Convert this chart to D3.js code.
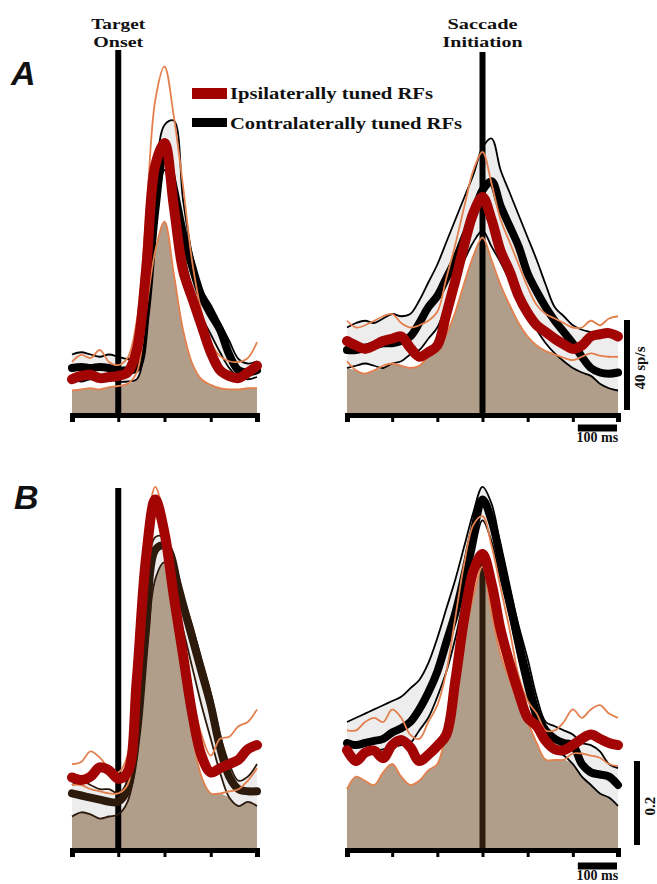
<!DOCTYPE html>
<html>
<head>
<meta charset="utf-8">
<script src="https://cdn.jsdelivr.net/npm/d3@7"></script>
<style>
    body { margin: 0; background: #ffffff; }
    .serif-label { font-family: "Liberation Serif", "DejaVu Serif", serif; font-weight: bold; fill: #111111; }
    .panel-letter { font-family: "Liberation Sans", Arial, sans-serif; font-weight: bold; font-style: italic; fill: #111111; }
</style>
</head>
<body>
<svg id="fig" width="657" height="884"></svg>
<script>
// time bins (ms) relative to the event
const timesOnset = [-100, -80, -60, -40, -20, 0, 20, 40, 60, 80, 100, 120, 140, 160, 180, 200, 220, 240, 260, 280, 300];
const timesSacc = [-300, -280, -260, -240, -220, -200, -180, -160, -140, -120, -100, -80, -60, -40, -20, 0,
                   20, 40, 60, 80, 100, 120, 140, 160, 180, 200, 220, 240, 260, 280, 300];
const ticksOnset = [-100, 0, 100, 200, 300];
const ticksSacc = [-300, -200, -100, 0, 100, 200, 300];

// A - firing rate (sp/s), aligned on target onset
const aOnsetIpsiMean = [15, 16.5, 17, 15.5, 16, 16.5, 18, 28, 63, 110, 120, 92, 63.5, 51, 39, 27, 19, 16.4, 15.5, 18, 21];
const aOnsetIpsiHi = [22.7, 25.8, 24.4, 28, 22.7, 21.3, 24.4, 41, 86, 139, 154, 132, 101, 67, 45, 31.5, 25.3, 23, 22.7, 24.4, 31.5];
const aOnsetIpsiLo = [10, 10.5, 11, 10.5, 11.5, 12, 13, 18, 45, 72, 85, 62, 37, 22, 15, 12.5, 11, 10.5, 10.5, 11, 11];
const aOnsetContraMean = [20, 20.5, 20, 20.5, 20, 19, 19, 20, 45, 90, 117, 100, 80, 65, 52, 44, 37, 26, 19, 18, 19];
const aOnsetContraHi = [26, 27, 26, 25, 26, 25, 24, 25, 52, 100, 128, 130, 95, 70, 55, 48, 40, 32, 24, 22, 23];
const aOnsetContraLo = [15, 14, 15, 14.5, 15, 14, 14, 15, 35, 80, 108, 92, 72, 55, 43, 35, 27, 20, 16, 15, 16];

// A - firing rate (sp/s), aligned on saccade initiation
const aSaccIpsiMean = [32, 30, 28.5, 30, 32, 33, 34, 29, 25, 27, 30, 44, 59, 75, 89, 96, 86, 72, 63, 52, 44.5, 39, 36, 33, 30.5, 28.5, 30, 34, 35, 35.5, 34];
const aSaccIpsiHi = [41, 38, 39, 41, 43, 44, 40, 38, 39, 41, 45, 60, 75, 92, 108, 116, 102, 86, 76, 66, 56, 48, 44, 42, 40, 38, 38, 41, 39, 42, 43];
const aSaccIpsiLo = [23, 19, 17.5, 19, 21, 22, 21, 20, 21, 25, 28, 35, 45, 58, 70, 78, 68, 57, 48, 40, 34, 30, 27.5, 26, 24.5, 23.5, 25, 26.5, 25.5, 25, 25];
const aSaccContraMean = [28, 28, 29, 30, 31, 31, 32, 34, 40, 47, 52, 60, 68, 78, 88, 99, 103, 92, 83, 74, 62, 54, 47, 41, 36, 31, 25, 20, 18, 17.5, 18];
const aSaccContraHi = [38, 40, 41, 40, 42, 44, 43, 44, 50, 58, 66, 76, 86, 96, 106, 118, 122, 108, 98, 88, 78, 68, 57, 47, 43, 39, 37, 36, 35, 35, 35];
const aSaccContraLo = [20, 21, 22, 21, 20, 22, 23, 26, 28, 33, 38, 48, 58, 68, 76, 81, 74, 67, 59, 52, 44, 37, 31, 26.5, 23, 20, 18, 16.5, 13, 11, 10];

// B - normalized activity, aligned on target onset
const bOnsetIpsiMean = [0.168, 0.162, 0.17, 0.192, 0.185, 0.165, 0.18, 0.40, 0.69, 0.83, 0.75, 0.6, 0.46, 0.32, 0.22, 0.18, 0.19, 0.2, 0.21, 0.235, 0.245];
const bOnsetIpsiHi = [0.2, 0.205, 0.23, 0.215, 0.19, 0.18, 0.22, 0.45, 0.73, 0.86, 0.78, 0.63, 0.49, 0.36, 0.27, 0.22, 0.26, 0.265, 0.29, 0.3, 0.33];
const bOnsetIpsiLo = [0.15, 0.15, 0.14, 0.135, 0.13, 0.13, 0.15, 0.35, 0.64, 0.79, 0.71, 0.56, 0.41, 0.27, 0.17, 0.13, 0.13, 0.135, 0.14, 0.16, 0.19];
const bOnsetContraMean = [0.13, 0.125, 0.12, 0.115, 0.11, 0.11, 0.14, 0.27, 0.52, 0.71, 0.72, 0.66, 0.58, 0.5, 0.42, 0.34, 0.24, 0.17, 0.14, 0.135, 0.135];
const bOnsetContraHi = [0.15, 0.16, 0.15, 0.14, 0.14, 0.13, 0.16, 0.3, 0.55, 0.74, 0.74, 0.7, 0.6, 0.53, 0.45, 0.37, 0.27, 0.2, 0.16, 0.17, 0.2];
const bOnsetContraLo = [0.075, 0.085, 0.08, 0.07, 0.075, 0.08, 0.11, 0.22, 0.45, 0.64, 0.68, 0.6, 0.52, 0.43, 0.34, 0.26, 0.18, 0.12, 0.1, 0.11, 0.1];

// B - normalized activity, aligned on saccade initiation
const bSaccIpsiMean = [0.233, 0.207, 0.227, 0.232, 0.214, 0.245, 0.257, 0.24, 0.207, 0.222, 0.243, 0.27, 0.4, 0.55, 0.66, 0.70, 0.63, 0.52, 0.44, 0.37, 0.31, 0.29, 0.255, 0.235, 0.233, 0.245, 0.26, 0.27, 0.26, 0.25, 0.245];
const bSaccIpsiHi = [0.28, 0.28, 0.3, 0.31, 0.3, 0.33, 0.31, 0.27, 0.26, 0.3, 0.34, 0.42, 0.55, 0.68, 0.77, 0.79, 0.72, 0.62, 0.52, 0.41, 0.35, 0.32, 0.28, 0.28, 0.30, 0.33, 0.31, 0.33, 0.34, 0.32, 0.31];
const bSaccIpsiLo = [0.14, 0.17, 0.16, 0.15, 0.18, 0.2, 0.17, 0.15, 0.16, 0.185, 0.2, 0.28, 0.39, 0.5, 0.6, 0.67, 0.56, 0.46, 0.4, 0.34, 0.3, 0.25, 0.21, 0.21, 0.21, 0.225, 0.225, 0.22, 0.215, 0.2, 0.195];
const bSaccContraMean = [0.25, 0.245, 0.25, 0.255, 0.26, 0.275, 0.285, 0.3, 0.33, 0.37, 0.42, 0.49, 0.56, 0.65, 0.75, 0.83, 0.78, 0.69, 0.59, 0.49, 0.4, 0.32, 0.28, 0.26, 0.25, 0.245, 0.2, 0.18, 0.175, 0.17, 0.15];
const bSaccContraHi = [0.3, 0.31, 0.32, 0.33, 0.34, 0.35, 0.36, 0.38, 0.4, 0.44, 0.5, 0.57, 0.64, 0.72, 0.8, 0.86, 0.82, 0.72, 0.62, 0.53, 0.45, 0.36, 0.3, 0.29, 0.28, 0.27, 0.25, 0.245, 0.23, 0.2, 0.19];
const bSaccContraLo = [0.22, 0.21, 0.22, 0.23, 0.235, 0.24, 0.245, 0.25, 0.28, 0.31, 0.36, 0.42, 0.5, 0.6, 0.7, 0.78, 0.73, 0.64, 0.55, 0.45, 0.36, 0.29, 0.25, 0.23, 0.22, 0.2, 0.17, 0.15, 0.13, 0.12, 0.1];

// colours
const tanFill = "#b19e8a";
const bandFill = "#ededed";
const ipsiThick = "#a30505";
const ipsiThin = "#e3804e";

const svg = d3.select("#fig");

const panels = [
    {times: timesOnset, ticks: ticksOnset, xRange: [72, 257], yDomain: [0, 40], yRange: [413, 323],
     ipsi: [aOnsetIpsiMean, aOnsetIpsiHi, aOnsetIpsiLo], contra: [aOnsetContraMean, aOnsetContraHi, aOnsetContraLo],
     lineTop: 50, lineColor: "#000000", contraColor: "#000000"},
    {times: timesSacc, ticks: ticksSacc, xRange: [347, 618], yDomain: [0, 40], yRange: [413, 323],
     ipsi: [aSaccIpsiMean, aSaccIpsiHi, aSaccIpsiLo], contra: [aSaccContraMean, aSaccContraHi, aSaccContraLo],
     lineTop: 52, lineColor: "#000000", contraColor: "#000000"},
    {times: timesOnset, ticks: ticksOnset, xRange: [72, 257], yDomain: [0, 0.2], yRange: [848, 764],
     ipsi: [bOnsetIpsiMean, bOnsetIpsiHi, bOnsetIpsiLo], contra: [bOnsetContraMean, bOnsetContraHi, bOnsetContraLo],
     lineTop: 488, lineColor: "#000000", contraColor: "#2c1a0c"},
    {times: timesSacc, ticks: ticksSacc, xRange: [347, 618], yDomain: [0, 0.2], yRange: [848, 764],
     ipsi: [bSaccIpsiMean, bSaccIpsiHi, bSaccIpsiLo], contra: [bSaccContraMean, bSaccContraHi, bSaccContraLo],
     lineTop: null, lineColor: "#2e1d0e", contraColor: "#000000"}
];

const curve = d3.curveCatmullRom.alpha(0.5);

panels.forEach(p => {
    const x = d3.scaleLinear()
                .domain(d3.extent(p.times))
                .range(p.xRange);
    const y = d3.scaleLinear()
                .domain(p.yDomain)
                .range(p.yRange);

    const rows = p.times.map((t, i) => {
        const vals = [p.ipsi[0][i], p.ipsi[1][i], p.ipsi[2][i], p.contra[0][i], p.contra[1][i], p.contra[2][i]];
        return {t: t, im: vals[0], ih: vals[1], il: vals[2], cm: vals[3], ch: vals[4], cl: vals[5], floor: d3.min(vals)};
    });

    const g = svg.append("g");

    // pale sem band of contra cells
    g.append("path")
        .datum(rows)
        .attr("d", d3.area().x(d => x(d.t)).y0(d => y(d.cl)).y1(d => y(d.ch)).curve(curve))
        .attr("fill", bandFill);

    // tan area under the lowest trace
    g.append("path")
        .datum(rows)
        .attr("d", d3.area().x(d => x(d.t)).y0(y(0)).y1(d => y(d.floor)).curve(curve))
        .attr("fill", tanFill);

    // event line (target onset / saccade initiation)
    const zeroRow = rows.find(d => d.t === 0);
    g.append("line")
        .attr("x1", x(0)).attr("x2", x(0))
        .attr("y1", p.lineTop === null ? y(zeroRow.im) : p.lineTop)
        .attr("y2", y(0))
        .attr("stroke", p.lineColor)
        .attr("stroke-width", 6);

    const line = key => d3.line().x(d => x(d.t)).y(d => y(d[key])).curve(curve);

    // contra traces
    ["ch", "cl"].forEach(k => {
        g.append("path").datum(rows).attr("d", line(k))
            .attr("fill", "none").attr("stroke", p.contraColor).attr("stroke-width", 1.8);
    });
    g.append("path").datum(rows).attr("d", line("cm"))
        .attr("fill", "none").attr("stroke", p.contraColor)
        .attr("stroke-width", 8).attr("stroke-linecap", "round").attr("stroke-linejoin", "round");

    // ipsi traces
    ["ih", "il"].forEach(k => {
        g.append("path").datum(rows).attr("d", line(k))
            .attr("fill", "none").attr("stroke", ipsiThin).attr("stroke-width", 1.8);
    });
    g.append("path").datum(rows).attr("d", line("im"))
        .attr("fill", "none").attr("stroke", ipsiThick)
        .attr("stroke-width", 10).attr("stroke-linecap", "round").attr("stroke-linejoin", "round");

    // time axis
    const axis = g.append("g")
        .attr("transform", "translate(0," + (y(0) + 2) + ")")
        .call(d3.axisBottom(x).tickValues(p.ticks).tickSize(7).tickSizeOuter(7).tickFormat(""));
    axis.select(".domain").attr("stroke", "#000").attr("stroke-width", 5);
    axis.selectAll(".tick line").attr("stroke", "#000").attr("stroke-width", 3);

    p.x = x;
    p.y = y;
});

// scale bars
const scaleBars = [
    {panel: panels[1], barX: 627, value: 40, label: "40 sp/s", timeY: 428, timeText: 442},
    {panel: panels[3], barX: 637, value: 0.2, label: "0.2", timeY: 866, timeText: 880}
];
scaleBars.forEach(s => {
    const y = s.panel.y, x = s.panel.x;
    svg.append("line")
        .attr("x1", s.barX).attr("x2", s.barX)
        .attr("y1", y(s.value) - 3).attr("y2", y(0) - 3)
        .attr("stroke", "#000").attr("stroke-width", 6);
    const midY = (y(s.value) + y(0)) / 2;
    svg.append("text")
        .attr("class", "serif-label")
        .attr("transform", "translate(" + (s.barX + 18) + "," + midY + ") rotate(-90)")
        .attr("text-anchor", "middle")
        .attr("font-size", "15px")
        .text(s.label);
    svg.append("line")
        .attr("x1", x(200) + 5).attr("x2", x(300) - 1)
        .attr("y1", s.timeY).attr("y2", s.timeY)
        .attr("stroke", "#000").attr("stroke-width", 7);
    svg.append("text")
        .attr("class", "serif-label")
        .attr("x", (x(200) + x(300)) / 2 + 2)
        .attr("y", s.timeText)
        .attr("text-anchor", "middle")
        .attr("font-size", "14px")
        .text("100 ms");
});

// event labels
const eventLabels = [
    {x: panels[0].x(0), lines: ["Target", "Onset"], widths: [54, 50]},
    {x: panels[1].x(0), lines: ["Saccade", "Initiation"], widths: [70, 80]}
];
eventLabels.forEach(e => {
    e.lines.forEach((txt, i) => {
        svg.append("text")
            .attr("class", "serif-label")
            .attr("x", e.x - e.widths[i] / 2)
            .attr("y", 29 + i * 18)
            .attr("font-size", "15px")
            .attr("textLength", e.widths[i])
            .attr("lengthAdjust", "spacingAndGlyphs")
            .text(txt);
    });
});

// panel letters
svg.append("text").attr("class", "panel-letter").attr("x", 11).attr("y", 85).attr("font-size", "34px").text("A");
svg.append("text").attr("class", "panel-letter").attr("x", 14).attr("y", 509).attr("font-size", "34px").text("B");

// legend
const legendItems = [
    {label: "Ipsilaterally tuned RFs", color: "#a00000", y: 88, h: 11, width: 203},
    {label: "Contralaterally tuned RFs", color: "#000000", y: 118, h: 9, width: 232}
];
legendItems.forEach(l => {
    svg.append("rect")
        .attr("x", 192).attr("y", l.y)
        .attr("width", 35).attr("height", l.h)
        .attr("fill", l.color);
    svg.append("text")
        .attr("class", "serif-label")
        .attr("x", 230)
        .attr("y", l.y + 11)
        .attr("font-size", "17px")
        .attr("textLength", l.width)
        .attr("lengthAdjust", "spacingAndGlyphs")
        .text(l.label);
});
</script>
</body>
</html>
